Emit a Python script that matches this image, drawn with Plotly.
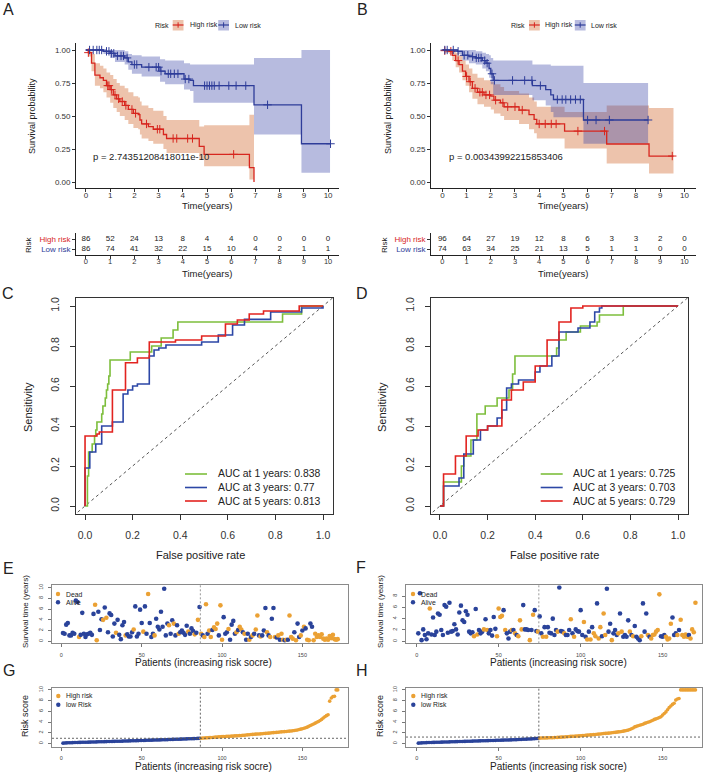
import plotly.graph_objects as go

# ======================= DATA =======================
years = list(range(0, 11))

# ---- Panel A : Kaplan-Meier (training cohort) ----
A_high_t = [0, 0.1, 0.23, 0.37, 0.58, 0.72, 0.85, 1.0, 1.13, 1.27, 1.4, 1.6, 1.75, 1.96, 2.16, 2.23, 2.3, 2.58, 2.78, 3.2, 3.33, 4.68, 4.88, 6.75, 6.94]
A_high_s = [1, 0.98, 0.9, 0.81, 0.79, 0.77, 0.73, 0.70, 0.66, 0.63, 0.61, 0.58, 0.55, 0.52, 0.51, 0.47, 0.44, 0.42, 0.40, 0.36, 0.33, 0.27, 0.21, 0.11, 0.0]
A_high_lo = [1, 0.95, 0.84, 0.73, 0.71, 0.68, 0.64, 0.60, 0.56, 0.53, 0.50, 0.47, 0.44, 0.41, 0.40, 0.36, 0.33, 0.31, 0.29, 0.25, 0.22, 0.17, 0.12, 0.02, 0.02]
A_high_hi = [1, 1.0, 0.97, 0.90, 0.88, 0.86, 0.83, 0.81, 0.78, 0.75, 0.73, 0.71, 0.68, 0.65, 0.64, 0.61, 0.58, 0.56, 0.54, 0.50, 0.47, 0.42, 0.43, 0.51, 0.51]
A_high_cens = [0.1, 0.9, 0.95, 1.05, 1.2, 1.35, 1.5, 1.65, 1.9, 2.05, 2.5, 2.95, 3.05, 3.6, 3.75, 4.2, 4.4, 6.1]

A_low_t = [0, 0.72, 1.0, 1.2, 1.6, 1.75, 1.9, 2.3, 3.06, 3.27, 4.05, 4.3, 4.44, 6.94, 8.9, 10.08]
A_low_s = [1, 0.99, 0.975, 0.955, 0.94, 0.91, 0.89, 0.87, 0.84, 0.82, 0.78, 0.77, 0.73, 0.585, 0.29, 0.29]
A_low_lo = [1, 0.97, 0.94, 0.91, 0.89, 0.85, 0.82, 0.80, 0.76, 0.74, 0.70, 0.69, 0.60, 0.36, 0.07, 0.07]
A_low_hi = [1, 1.0, 1.0, 1.0, 0.99, 0.97, 0.96, 0.95, 0.93, 0.92, 0.90, 0.89, 0.89, 0.94, 1.0, 1.0]
A_low_cens = [0.15, 0.3, 0.45, 0.55, 0.65, 0.85, 0.95, 1.05, 1.15, 1.3, 1.45, 1.55, 1.7, 2.0, 2.1, 2.6, 2.9, 3.0,
              3.1, 3.4, 3.5, 3.65, 3.8, 4.1, 4.25, 4.9, 5.0, 5.1, 5.2, 5.3, 5.5, 5.9, 6.2, 6.6, 7.5, 10.1]

A_high_n = [86, 52, 24, 13, 8, 4, 4, 0, 0, 0, 0]
A_low_n = [86, 74, 41, 32, 22, 15, 10, 4, 2, 1, 1]
A_pval = "p = 2.74351208418011e-10"

# ---- Panel B : Kaplan-Meier (validation cohort) ----
B_high_t = [0, 0.1, 0.28, 0.41, 0.55, 0.69, 0.83, 0.96, 1.1, 1.24, 1.45, 1.72, 2.0, 2.13, 2.4, 2.55, 3.17, 3.58, 3.79, 3.9, 5.05, 6.79, 8.54, 9.55]
B_high_s = [1, 0.995, 0.99, 0.96, 0.92, 0.89, 0.84, 0.80, 0.76, 0.71, 0.68, 0.66, 0.65, 0.62, 0.60, 0.57, 0.545, 0.51, 0.475, 0.44, 0.386, 0.288, 0.197, 0.197]
B_high_lo = [1, 0.98, 0.97, 0.92, 0.87, 0.83, 0.77, 0.73, 0.68, 0.63, 0.59, 0.57, 0.55, 0.52, 0.50, 0.47, 0.44, 0.40, 0.37, 0.33, 0.255, 0.14, 0.065, 0.065]
B_high_hi = [1, 1.0, 1.0, 1.0, 0.98, 0.96, 0.92, 0.89, 0.86, 0.82, 0.79, 0.77, 0.76, 0.74, 0.72, 0.69, 0.67, 0.64, 0.61, 0.57, 0.53, 0.58, 0.56, 0.56]
B_high_cens = [0.1, 0.35, 0.65, 1.0, 1.15, 1.35, 1.55, 1.65, 1.8, 1.95, 2.2, 2.5, 2.7, 3.0, 3.3, 4.0, 4.25, 4.5, 4.7, 5.6, 6.7, 9.5]

B_low_t = [0, 0.62, 0.83, 1.1, 1.38, 1.65, 1.8, 1.93, 2.0, 2.1, 3.72, 4.27, 4.48, 4.59, 5.83, 8.5]
B_low_s = [1, 0.99, 0.96, 0.95, 0.94, 0.92, 0.90, 0.86, 0.82, 0.77, 0.73, 0.70, 0.66, 0.625, 0.47, 0.47]
B_low_lo = [1, 0.97, 0.92, 0.90, 0.89, 0.86, 0.84, 0.79, 0.74, 0.66, 0.62, 0.58, 0.53, 0.49, 0.29, 0.29]
B_low_hi = [1, 1.0, 1.0, 1.0, 0.99, 0.98, 0.97, 0.96, 0.94, 0.92, 0.89, 0.89, 0.88, 0.88, 0.75, 0.75]
B_low_cens = [0.1, 0.2, 0.45, 0.65, 0.9, 1.05, 1.25, 1.4, 1.5, 1.6, 1.75, 1.85, 2.05, 2.15, 2.9, 3.4, 3.7, 4.05,
              4.75, 4.95, 5.1, 5.3, 5.5, 5.7, 6.0, 6.35, 6.9, 8.5]

B_high_n = [96, 64, 27, 19, 12, 8, 6, 3, 3, 2, 0]
B_low_n = [74, 63, 34, 25, 21, 13, 5, 1, 1, 0, 0]
B_pval = "p = 0.00343992215853406"

# ---- Panels C / D : time-dependent ROC ----
roc_years = [1, 3, 5]
C_auc = ["0.838", "0.77", "0.813"]
D_auc = ["0.725", "0.703", "0.729"]

C1_fpr = [0, 0.01, 0.015, 0.03, 0.04, 0.045, 0.05, 0.07, 0.075, 0.085, 0.09, 0.095, 0.1, 0.105, 0.19, 0.28, 0.32, 0.37, 0.39, 0.83, 0.91, 1.0]
C1_tpr = [0, 0.15, 0.27, 0.31, 0.35, 0.38, 0.42, 0.46, 0.50, 0.54, 0.58, 0.61, 0.65, 0.73, 0.77, 0.80, 0.84, 0.88, 0.92, 0.96, 1.0, 1.0]
C3_fpr = [0, 0, 0.02, 0.045, 0.07, 0.115, 0.16, 0.18, 0.2, 0.22, 0.27, 0.29, 0.31, 0.34, 0.49, 0.56, 0.62, 0.67, 0.78, 0.91, 1.0]
C3_tpr = [0, 0.19, 0.27, 0.31, 0.40, 0.42, 0.56, 0.58, 0.60, 0.61, 0.75, 0.78, 0.79, 0.805, 0.82, 0.855, 0.905, 0.933, 0.97, 0.99, 1.0]
C5_fpr = [0, 0, 0.05, 0.06, 0.115, 0.17, 0.22, 0.27, 0.38, 0.49, 0.59, 0.64, 0.69, 0.75, 0.9, 1.0]
C5_tpr = [0, 0.35, 0.36, 0.37, 0.58, 0.716, 0.74, 0.82, 0.83, 0.85, 0.91, 0.93, 0.96, 0.975, 1.0, 1.0]

D1_fpr = [0, 0.015, 0.09, 0.1, 0.13, 0.155, 0.19, 0.24, 0.29, 0.305, 0.315, 0.49, 0.50, 0.53, 0.59, 0.66, 0.67, 0.77, 1.0]
D1_tpr = [0, 0.12, 0.2, 0.25, 0.33, 0.46, 0.5, 0.54, 0.58, 0.66, 0.75, 0.79, 0.83, 0.87, 0.90, 0.92, 0.955, 1.0, 1.0]
D3_fpr = [0, 0.015, 0.08, 0.1, 0.14, 0.17, 0.2, 0.24, 0.26, 0.28, 0.3, 0.33, 0.4, 0.42, 0.47, 0.5, 0.58, 0.63, 0.65, 0.67, 0.68, 1.0]
D3_tpr = [0, 0.1, 0.14, 0.26, 0.33, 0.38, 0.40, 0.44, 0.48, 0.59, 0.61, 0.63, 0.67, 0.70, 0.75, 0.87, 0.89, 0.92, 0.97, 0.99, 1.0, 1.0]
D5_fpr = [0, 0.01, 0.015, 0.065, 0.11, 0.16, 0.2, 0.26, 0.3, 0.35, 0.4, 0.45, 0.5, 0.55, 0.6, 1.0]
D5_tpr = [0, 0, 0.16, 0.25, 0.35, 0.38, 0.40, 0.53, 0.58, 0.62, 0.70, 0.83, 0.92, 0.99, 1.0, 1.0]
diag = [-0.05, 1.05]

# ---- Panels E / F : survival status (0 = alive, 1 = dead) ----
E_low_time = [1.55, 1.4, 3.1, 3.4, 1.1, 1.1, 1.6, 1.4, 7.6, 7.3,
              0.8, 1.2, 5.3, 1.4, 0.8, 1.3, 1.4, 1.6, 1.2, 5.1,
              6.8, 0.2, 5.5, 2.1, 4.1, 4.0, 6.3, 4.4, 1.7, 5.2,
              4.9, 0.9, 3.3, 1.6, 4.0, 1.2, 0.4, 3.0, 3.6, 1.1,
              1.3, 0.9, 0.9, 1.7, 2.2, 6.5, 0.9, 1.4, 5.9, 3.4,
              1.8, 6.5, 1.4, 8.8, 3.4, 0.8, 1.4, 1.1, 4.2, 2.7,
              2.2, 5.5, 2.7, 9.8, 1.1, 3.3, 3.0, 1.4, 3.9, 3.3,
              1.1, 3.0, 1.4, 1.7, 2.0, 1.6, 1.2, 2.9, 1.8, 1.4,
              2.4, 1.9, 1.3, 1.6, 4.0, 6.4]
E_low_status = [0, 0, 0, 0, 0, 0, 0, 0, 0, 0,
                1, 0, 0, 0, 0, 0, 0, 0, 0, 0,
                1, 1, 0, 0, 0, 1, 0, 1, 0, 0,
                0, 0, 0, 1, 0, 0, 0, 0, 0, 1,
                0, 0, 0, 0, 1, 0, 0, 0, 0, 0,
                1, 0, 0, 1, 0, 0, 0, 1, 0, 0,
                0, 0, 0, 0, 0, 0, 1, 0, 0, 1,
                0, 0, 1, 0, 0, 0, 0, 0, 1, 0,
                0, 0, 1, 0, 1, 0]
E_high_time = [1.4, 1.1, 0.8, 6.9, 1.4, 2.0, 0.8, 2.1, 2.6, 2.3,
               3.3, 1.1, 6.7, 0.3, 4.5, 1.4, 1.7, 2.3, 0.3, 3.1,
               3.8, 1.4, 1.7, 2.1, 2.7, 2.2, 1.7, 1.4, 0.3, 1.4,
               0.3, 0.8, 1.1, 1.4, 2.2, 4.8, 1.1, 0.9, 1.1, 2.0,
               6.2, 1.7, 1.1, 0.8, 4.2, 6.2, 0.8, 0.7, 1.1, 0.3,
               1.4, 0.3, 0.2, 0.3, 0.3, 4.8, 0.8, 0.5, 1.7, 0.2,
               3.3, 0.8, 1.1, 2.0, 2.7, 2.4, 0.3, 0.2, 3.3, 2.7,
               0.2, 1.4, 0.8, 1.1, 0.8, 1.3, 0.5, 0.3, 0.5, 0.3,
               1.0, 0.6, 1.2, 0.4, 0.3, 0.4]
E_high_status = [1, 0, 1, 1, 0, 1, 1, 0, 1, 1,
                 1, 0, 1, 1, 0, 0, 0, 1, 0, 0,
                 0, 0, 1, 0, 1, 1, 0, 1, 0, 0,
                 1, 0, 1, 0, 1, 1, 0, 1, 0, 0,
                 0, 1, 0, 1, 0, 0, 1, 0, 1, 0,
                 1, 1, 0, 1, 0, 1, 1, 1, 0, 1,
                 0, 0, 1, 0, 1, 0, 1, 1, 0, 0,
                 1, 1, 1, 1, 1, 1, 1, 1, 1, 1,
                 1, 1, 1, 1, 1, 1]

F_low_time = [1.4, 8.5, 0.2, 2.1, 1.1, 0.35, 1.4, 5.8, 1.2, 4.2,
              1.1, 1.7, 4.9, 4.7, 2.0, 1.1, 6.4, 6.1, 1.5, 6.8,
              1.7, 1.8, 3.0, 2.1, 1.2, 5.1, 6.3, 3.7, 3.4, 5.3,
              4.7, 1.7, 1.4, 1.6, 0.9, 5.7, 1.2, 2.0, 1.4, 1.7,
              2.1, 3.9, 2.0, 1.4, 2.0, 1.0, 4.3, 2.2, 0.9, 5.8,
              4.3, 4.5, 5.5, 2.0, 1.4, 0.5, 1.7, 2.0, 2.0, 1.4,
              1.1, 0.9, 3.7, 2.1, 6.4, 2.1, 2.1, 2.0, 0.2, 2.0,
              4.7, 5.5, 1.8, 1.7]
F_low_status = [0, 0, 0, 0, 0, 0, 0, 1, 0, 0,
                0, 0, 0, 0, 0, 0, 0, 0, 0, 0,
                0, 0, 0, 0, 0, 0, 0, 0, 0, 0,
                0, 0, 0, 0, 1, 0, 1, 0, 0, 0,
                1, 0, 1, 0, 0, 0, 0, 0, 1, 1,
                1, 1, 0, 1, 0, 0, 0, 1, 0, 1,
                0, 1, 1, 1, 0, 0, 0, 0, 1, 0,
                1, 0, 0, 1]
F_high_time = [4.4, 1.4, 0.8, 2.5, 0.8, 2.5, 1.5, 1.4, 4.0, 1.1,
               2.0, 1.7, 9.5, 1.8, 1.7, 1.4, 1.1, 1.1, 2.0, 3.9,
               1.4, 0.8, 2.1, 1.8, 1.7, 5.5, 1.1, 3.4, 0.8, 0.3,
               1.7, 0.3, 2.5, 1.4, 0.9, 6.7, 0.5, 2.5, 0.9, 4.9,
               1.1, 9.3, 1.7, 3.1, 0.2, 1.4, 2.0, 1.1, 1.4, 4.9,
               1.7, 0.8, 1.1, 0.8, 3.7, 1.7, 1.1, 0.9, 2.7, 0.8,
               0.5, 0.2, 0.9, 6.7, 1.7, 4.9, 1.1, 0.8, 0.5, 1.1,
               1.2, 1.7, 2.0, 8.3, 0.9, 0.8, 1.1, 0.8, 0.3, 0.5,
               3.1, 4.2, 1.1, 1.4, 1.1, 2.0, 3.8, 1.1, 0.8, 1.2,
               0.8, 1.1, 0.5, 2.1, 1.6, 6.8]
F_high_status = [0, 0, 1, 0, 1, 0, 0, 0, 0, 0,
                 0, 1, 0, 0, 0, 1, 0, 0, 0, 1,
                 0, 1, 0, 0, 0, 0, 0, 1, 0, 1,
                 0, 1, 0, 1, 1, 0, 1, 1, 0, 1,
                 1, 0, 0, 0, 1, 0, 0, 0, 1, 0,
                 1, 0, 0, 0, 0, 1, 0, 1, 0, 0,
                 0, 0, 1, 0, 0, 0, 1, 0, 1, 1,
                 1, 1, 1, 1, 0, 0, 0, 1, 1, 1,
                 1, 0, 0, 0, 1, 0, 1, 1, 1, 1,
                 1, 0, 1, 1, 1, 1]

# ---- Panels G / H : risk scores (sorted) ----
G_low_score = [0.06, 0.09, 0.11, 0.13, 0.14, 0.15, 0.16, 0.17, 0.18, 0.19,
               0.2, 0.21, 0.22, 0.22, 0.23, 0.24, 0.25, 0.26, 0.27, 0.28,
               0.29, 0.3, 0.31, 0.32, 0.32, 0.33, 0.34, 0.35, 0.36, 0.37,
               0.38, 0.39, 0.4, 0.41, 0.42, 0.42, 0.43, 0.44, 0.45, 0.46,
               0.47, 0.48, 0.49, 0.5, 0.51, 0.52, 0.53, 0.54, 0.55, 0.56,
               0.57, 0.58, 0.59, 0.6, 0.61, 0.62, 0.63, 0.64, 0.65, 0.66,
               0.67, 0.68, 0.69, 0.7, 0.71, 0.72, 0.73, 0.74, 0.76, 0.77,
               0.78, 0.79, 0.8, 0.81, 0.82, 0.83, 0.85, 0.86, 0.87, 0.88,
               0.89, 0.9, 0.91, 0.93, 0.95, 0.97]
G_high_score = [0.99, 1.01, 1.03, 1.05, 1.07, 1.09, 1.11, 1.13, 1.16, 1.19, 1.22,
                1.24, 1.26, 1.28, 1.3, 1.31, 1.33, 1.35, 1.36, 1.38, 1.4, 1.42,
                1.43, 1.45, 1.47, 1.5, 1.52, 1.55, 1.58, 1.61, 1.64, 1.68,
                1.7, 1.72, 1.74, 1.76, 1.78, 1.8, 1.83, 1.85, 1.88, 1.9,
                1.93, 1.96, 1.99, 2.02, 2.05, 2.08, 2.11, 2.14, 2.17, 2.2,
                2.22, 2.25, 2.28, 2.31, 2.34, 2.38, 2.42, 2.47, 2.53, 2.6,
                2.68, 2.76, 2.85, 2.95, 3.05, 3.2, 3.35, 3.5, 3.65, 3.8,
                3.95, 4.1, 4.3, 4.5, 4.75, 5.0, 5.2, 5.35,
                7.9, 8.5, 8.75, 8.8, 10.0, 10.0]
G_cutoff = 0.97

H_low_score = [0.06, 0.09, 0.11, 0.13, 0.15, 0.16, 0.17, 0.18, 0.19, 0.2,
               0.21, 0.22, 0.23, 0.24, 0.25, 0.26, 0.27, 0.28, 0.29, 0.3,
               0.31, 0.32, 0.33, 0.34, 0.35, 0.36, 0.37, 0.38, 0.39, 0.4,
               0.41, 0.42, 0.43, 0.44, 0.45, 0.46, 0.47, 0.48, 0.49, 0.5,
               0.51, 0.52, 0.53, 0.54, 0.55, 0.56, 0.57, 0.58, 0.59, 0.6,
               0.61, 0.62, 0.63, 0.64, 0.65, 0.66, 0.67, 0.68, 0.7, 0.71,
               0.72, 0.74, 0.75, 0.77, 0.78, 0.8, 0.81, 0.83, 0.84, 0.86,
               0.88, 0.9, 0.92, 0.95]
H_high_score = [1.0, 1.01, 1.02, 1.03, 1.04, 1.05, 1.06, 1.07, 1.08, 1.1,
                1.12, 1.14, 1.16, 1.18, 1.2, 1.22, 1.25, 1.27, 1.3, 1.32,
                1.34, 1.36, 1.38, 1.4, 1.42, 1.44, 1.47, 1.5, 1.53, 1.56,
                1.58, 1.6, 1.63, 1.66, 1.69, 1.72, 1.75, 1.78, 1.81, 1.85,
                1.88, 1.9, 1.93, 1.96, 2.0, 2.04, 2.08, 2.12, 2.16, 2.2,
                2.25, 2.3, 2.36, 2.42, 2.5, 2.6, 2.75, 2.9, 3.1, 3.2,
                3.3, 3.4, 3.5, 3.6, 3.75, 3.85, 3.95, 4.05, 4.2, 4.35,
                4.5, 4.6, 4.7, 4.85, 5.0, 5.3, 5.6, 5.9, 6.3, 6.7,
                7.0, 7.3, 7.5, 8.1, 8.3, 8.4,
                10, 10, 10, 10, 10, 10, 10, 10, 10, 10]
H_cutoff = 1.2

# ======================= STYLE =======================
W, H = 708, 772
FONT = "Liberation Sans, Arial, Helvetica, sans-serif"
RED_LINE = "#D7261E"
BLUE_LINE = "#2E3C99"
RED_FILL = "rgba(205,90,25,0.36)"
BLUE_FILL = "rgba(55,66,166,0.36)"
ROC_GREEN = "#7DBE3C"
ROC_BLUE = "#2C47A6"
ROC_RED = "#E2231F"
DOT_ORANGE = "#EBA134"
DOT_BLUE = "#2A439A"


def PX(x):
    return x / W


def PY(y):
    return 1 - y / H


def xa(i):
    return "x" if i == 1 else f"x{i}"


def ya(i):
    return "y" if i == 1 else f"y{i}"


fig = go.Figure()
layout = dict(width=W, height=H, margin=dict(l=0, r=0, t=0, b=0), template="none",
              paper_bgcolor="white", plot_bgcolor="white", showlegend=False,
              font=dict(family=FONT, color="#222"))
annotations = []
shapes = []


def set_axes(i, xdom, ydom, xr, yr, xkw, ykw):
    base = dict(showgrid=False, zeroline=False, automargin=False)
    kx = "xaxis" if i == 1 else f"xaxis{i}"
    ky = "yaxis" if i == 1 else f"yaxis{i}"
    layout[kx] = dict(base, domain=[PX(xdom[0]), PX(xdom[1])], range=xr, anchor=ya(i), **xkw)
    layout[ky] = dict(base, domain=[PY(ydom[1]), PY(ydom[0])], range=yr, anchor=xa(i), **ykw)


def ann(x, y, text, size, color="#222", xanchor="center", yanchor="middle", angle=0):
    annotations.append(dict(x=PX(x), y=PY(y), xref="paper", yref="paper", text=text, showarrow=False,
                            font=dict(size=size, color=color, family=FONT), xanchor=xanchor,
                            yanchor=yanchor, textangle=angle))


def step_at(t, s, c):
    v = s[0]
    for ti, si in zip(t, s):
        if ti <= c:
            v = si
    return v


# ---------- KM panels ----------
km_tick = dict(size=8, color="#333", family=FONT)
km_axis = dict(showline=True, linecolor="#222", linewidth=0.8, ticks="outside", ticklen=3,
               tickwidth=0.7, tickcolor="#333", tickfont=km_tick)


def km_panel(i_km, i_tab, xdom, xr, groups, high_n, low_n, pval, off):
    # axes
    set_axes(i_km, xdom, [43, 188], xr, [-0.045, 1.053],
             dict(km_axis, tickvals=years, ticklabelstandoff=-4),
             dict(km_axis, tickvals=[0, 0.25, 0.5, 0.75, 1.0],
                  ticktext=["0.00", "0.25", "0.50", "0.75", "1.00"]))
    set_axes(i_tab, xdom, [233, 255], xr, [0.4, 2.6],
             dict(km_axis, tickvals=years, ticklabelstandoff=-4,
                  tickfont=dict(size=7.5, color="#333", family=FONT)),
             dict(km_axis, tickvals=[1, 2],
                  ticktext=[f"<span style='color:{BLUE_LINE}'>Low risk</span>",
                            f"<span style='color:{RED_LINE}'>High risk</span>"],
                  tickfont=dict(size=8, family=FONT)))
    # bands
    for (t, s, lo, hi, cens, lc, fc) in groups:
        fig.add_trace(go.Scatter(x=t, y=lo, mode="lines", line=dict(width=0, shape="hv"),
                                 xaxis=xa(i_km), yaxis=ya(i_km), hoverinfo="skip"))
        fig.add_trace(go.Scatter(x=t, y=hi, mode="lines", line=dict(width=0, shape="hv"),
                                 fill="tonexty", fillcolor=fc, xaxis=xa(i_km), yaxis=ya(i_km),
                                 hoverinfo="skip"))
    for (t, s, lo, hi, cens, lc, fc) in groups:
        fig.add_trace(go.Scatter(x=t, y=s, mode="lines", line=dict(width=1.3, color=lc, shape="hv"),
                                 xaxis=xa(i_km), yaxis=ya(i_km)))
    for (t, s, lo, hi, cens, lc, fc) in groups:
        fig.add_trace(go.Scatter(x=cens, y=[step_at(t, s, c) for c in cens], mode="markers",
                                 marker=dict(symbol="cross-thin", size=6, line=dict(width=1, color=lc)),
                                 xaxis=xa(i_km), yaxis=ya(i_km)))
    # risk table
    fig.add_trace(go.Scatter(x=years, y=[2] * len(years), mode="text", text=[str(v) for v in high_n],
                             textfont=dict(size=8, color="#222", family=FONT),
                             xaxis=xa(i_tab), yaxis=ya(i_tab)))
    fig.add_trace(go.Scatter(x=years, y=[1] * len(years), mode="text", text=[str(v) for v in low_n],
                             textfont=dict(size=8, color="#222", family=FONT),
                             xaxis=xa(i_tab), yaxis=ya(i_tab)))
    # titles
    ann(32 + off, 116, "Survival probability", 9, angle=-90)
    ann(207 + off, 205.5, "Time(years)", 9.5)
    ann(207 + off, 273.5, "Time(years)", 9.5)
    ann(28 + off, 245, "Risk", 8, angle=-90)
    ann(91 + off, 156, pval, 9.5, xanchor="left")


km_panel(1, 2, [76, 339], [-0.41, 10.45],
         [(A_high_t, A_high_s, A_high_lo, A_high_hi, A_high_cens, RED_LINE, RED_FILL),
          (A_low_t, A_low_s, A_low_lo, A_low_hi, A_low_cens, BLUE_LINE, BLUE_FILL)],
         A_high_n, A_low_n, A_pval, 0)
km_panel(3, 4, [431, 696], [-0.47, 10.48],
         [(B_high_t, B_high_s, B_high_lo, B_high_hi, B_high_cens, RED_LINE, RED_FILL),
          (B_low_t, B_low_s, B_low_lo, B_low_hi, B_low_cens, BLUE_LINE, BLUE_FILL)],
         B_high_n, B_low_n, B_pval, 356)


def km_legend(risk_x, r0, rt, b0, bt):
    ann(risk_x, 25, "Risk", 7)
    for (x0, tx, lc, fc, label) in [(r0, rt, RED_LINE, RED_FILL, "High risk"),
                                    (b0, bt, BLUE_LINE, BLUE_FILL, "Low risk")]:
        shapes.append(dict(type="rect", xref="paper", yref="paper", x0=PX(x0), x1=PX(x0 + 10.8),
                           y0=PY(30.5), y1=PY(20), fillcolor=fc, line=dict(width=0)))
        shapes.append(dict(type="line", xref="paper", yref="paper", x0=PX(x0), x1=PX(x0 + 10.8),
                           y0=PY(25), y1=PY(25), line=dict(color=lc, width=1.2)))
        shapes.append(dict(type="line", xref="paper", yref="paper", x0=PX(x0 + 5.4), x1=PX(x0 + 5.4),
                           y0=PY(22.3), y1=PY(27.7), line=dict(color=lc, width=1)))
        ann(tx, 25, label, 7, xanchor="left")


km_legend(161.5, 172.7, 187.5, 218.2, 232.5)
km_legend(518.3, 529.0, 543.2, 574.8, 589.0)

# ---------- ROC panels ----------
roc_axis = dict(showline=True, mirror=True, linecolor="#333", linewidth=0.9, ticks="outside",
                ticklen=5, tickwidth=0.8, tickcolor="#333",
                tickfont=dict(size=10.5, color="#333", family=FONT),
                tickvals=[0, 0.2, 0.4, 0.6, 0.8, 1.0],
                ticktext=["0.0", "0.2", "0.4", "0.6", "0.8", "1.0"])


def roc_panel(i, xdom, xr, curves, aucs, off, leg_x0, leg_tx):
    set_axes(i, xdom, [298, 514], xr, [-0.04, 1.04],
             dict(roc_axis, ticklabelstandoff=6),
             dict(roc_axis, tickangle=-90, ticklabelstandoff=7))
    fig.add_trace(go.Scatter(x=diag, y=diag, mode="lines",
                             line=dict(color="#555", width=1, dash="3px,3px"),
                             xaxis=xa(i), yaxis=ya(i)))
    for (fpr, tpr, col) in curves:
        fig.add_trace(go.Scatter(x=fpr, y=tpr, mode="lines", line=dict(color=col, width=1.6, shape="hv"),
                                 xaxis=xa(i), yaxis=ya(i)))
    ann(28 + off, 407, "Sensitivity", 11, angle=-90)
    ann(200 + off, 555, "False positive rate", 11)
    for k, ((fpr, tpr, col), yr, auc) in enumerate(zip(curves, roc_years, aucs)):
        yy = [474, 487.5, 501][k]
        shapes.append(dict(type="line", xref="paper", yref="paper", x0=PX(leg_x0), x1=PX(leg_x0 + 22),
                           y0=PY(yy), y1=PY(yy), line=dict(color=col, width=1.6)))
        ann(leg_tx, yy, f"AUC at {yr} years: {auc}", 10.4, xanchor="left")


roc_panel(5, [76, 333], [-0.038, 1.042],
          [(C1_fpr, C1_tpr, ROC_GREEN), (C3_fpr, C3_tpr, ROC_BLUE), (C5_fpr, C5_tpr, ROC_RED)],
          C_auc, 0, 185, 215.5)
roc_panel(6, [430.7, 688], [-0.039, 1.042],
          [(D1_fpr, D1_tpr, ROC_GREEN), (D3_fpr, D3_tpr, ROC_BLUE), (D5_fpr, D5_tpr, ROC_RED)],
          D_auc, 354, 540.7, 571)

# ---------- scatter panels E-H ----------
small_axis = dict(showline=True, mirror=True, linecolor="#8a8a8a", linewidth=0.9, ticks="outside",
                  ticklen=3, tickwidth=0.7, tickcolor="#777",
                  tickfont=dict(size=5.5, color="#444", family=FONT), ticklabelstandoff=3)


def status_panel(i, xdom, xr, yr, yticks, low_t, low_s, high_t, high_s, off):
    times = low_t + high_t
    status = low_s + high_s
    idx = list(range(1, len(times) + 1))
    set_axes(i, xdom, [585.3, 643.3], xr, yr,
             dict(small_axis, tickvals=[0, 50, 100, 150]),
             dict(small_axis, tickvals=yticks, tickangle=-90))
    fig.add_trace(go.Scatter(x=idx, y=times, mode="markers",
                             marker=dict(size=4.6, color=[DOT_ORANGE if s == 1 else DOT_BLUE for s in status],
                                         line=dict(width=0)),
                             xaxis=xa(i), yaxis=ya(i)))
    shapes.append(dict(type="line", xref=xa(i), yref=ya(i) + " domain", x0=len(low_t) + 0.5,
                       x1=len(low_t) + 0.5, y0=0, y1=1, line=dict(color="#999", width=1, dash="2px,2px")))
    ann(25 + off, 612, "Survival time (years)", 8, angle=-90)
    ann(203 + off, 662, "Patients (increasing risk socre)", 10)
    for (yy, col, label) in [(594, DOT_ORANGE, "Dead"), (602.3, DOT_BLUE, "Alive")]:
        shapes.append(dict(type="circle", xref="paper", yref="paper", x0=PX(58 + off - 2.2), x1=PX(58 + off + 2.2),
                           y0=PY(yy + 2.2), y1=PY(yy - 2.2), fillcolor=col, line=dict(width=0)))
        ann(64 + off, yy, label, 6.8, xanchor="left")


status_panel(7, [52, 348], [-5.84, 178.4], [-0.37, 10.43], [0, 2, 4, 6, 8, 10],
             E_low_time, E_low_status, E_high_time, E_high_status, 0)
status_panel(8, [406, 702], [-6.5, 174], [-0.36, 9.9], [0, 2, 4, 6, 8],
             F_low_time, F_low_status, F_high_time, F_high_status, 355)


def score_panel(i, xdom, xr, low_sc, high_sc, cutoff, off):
    scores = low_sc + high_sc
    idx = list(range(1, len(scores) + 1))
    set_axes(i, xdom, [687.5, 746.7], xr, [-0.6, 10.45],
             dict(small_axis, tickvals=[0, 50, 100, 150]),
             dict(small_axis, tickvals=[0, 2, 4, 6, 8, 10], tickangle=-90))
    fig.add_trace(go.Scatter(x=idx, y=scores, mode="markers",
                             marker=dict(size=3.6, color=[DOT_BLUE] * len(low_sc) + [DOT_ORANGE] * len(high_sc),
                                         line=dict(width=0)),
                             xaxis=xa(i), yaxis=ya(i)))
    shapes.append(dict(type="line", xref=xa(i), yref=ya(i) + " domain", x0=len(low_sc) + 0.5,
                       x1=len(low_sc) + 0.5, y0=0, y1=1, line=dict(color="#555", width=0.9, dash="2px,2px")))
    shapes.append(dict(type="line", xref=xa(i) + " domain", yref=ya(i), x0=0, x1=1, y0=cutoff, y1=cutoff,
                       line=dict(color="#555", width=0.9, dash="2px,2px")))
    ann(25 + off, 716, "Risk score", 9, angle=-90)
    ann(203.5 + off, 766, "Patients (increasing risk socre)", 10)
    for (yy, col, label) in [(696, DOT_ORANGE, "High risk"), (704.7, DOT_BLUE, "low Risk")]:
        shapes.append(dict(type="circle", xref="paper", yref="paper", x0=PX(58.3 + off - 2.2),
                           x1=PX(58.3 + off + 2.2), y0=PY(yy + 2.2), y1=PY(yy - 2.2),
                           fillcolor=col, line=dict(width=0)))
        ann(64 + off, yy, label, 6.8, xanchor="left")


score_panel(9, [52, 348], [-5.84, 178.4], G_low_score, G_high_score, G_cutoff, 0)
score_panel(10, [406, 702], [-6.5, 174], H_low_score, H_high_score, H_cutoff, 355)

# ---------- panel letters ----------
for (lx, ly, letter) in [(8, 9, "A"), (362, 9, "B"), (7.5, 293, "C"), (361.5, 293, "D"),
                         (8, 568, "E"), (361, 567, "F"), (8.5, 670, "G"), (362, 670, "H")]:
    ann(lx, ly, letter, 16)

layout["annotations"] = annotations
layout["shapes"] = shapes
fig.update_layout(**layout)
fig.write_html("out.html")
